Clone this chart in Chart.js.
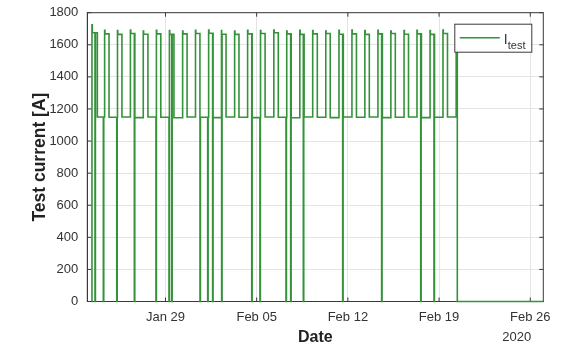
<!DOCTYPE html>
<html>
<head>
<meta charset="utf-8">
<script src="https://cdn.jsdelivr.net/npm/chart.js@4.4.1/dist/chart.umd.min.js"></script>
<style>
  html, body { margin: 0; padding: 0; background: #fff; }
  #wrap { width: 577px; height: 347px; }
</style>
</head>
<body>
<div id="wrap"><canvas id="current_chart" width="577" height="347"></canvas></div>
<script>
// time axis: days since 2020-01-23 00:00
const tickDays = [6, 13, 20, 27, 34];
const tickLabels = ["Jan 29", "Feb 05", "Feb 12", "Feb 19", "Feb 26"];
const yearLabel = "2020";

// one entry per day, Jan 23 .. Feb 20
const riseHour = [8.6, 7.9, 7.6, 7.4, 7.1, 7.3, 7.2, 7.6, 7.3, 7.5, 7.2, 7.4, 7.3, 7.1, 7.6,
                  7.4, 7.5, 7.2, 7.3, 7.6, 7.5, 7.3, 7.4, 7.2, 7.5, 7.3, 7.4, 7.2, 7.5];
const fallHour = [18.5, 16.0, 15.8, 15.6, 15.7, 15.4, 15.6, 15.8, 15.5, 15.7, 15.6, 15.4, 15.7, 15.5, 15.8,
                  15.6, 15.4, 15.7, 15.5, 15.6, 15.8, 15.5, 15.6, 15.4, 15.7, 15.5, 15.6, 15.5, 15.6];
const peakA = [1725, 1690, 1688, 1692, 1685, 1690, 1688, 1686, 1690, 1692, 1688, 1685, 1690, 1688, 1692,
               1686, 1690, 1688, 1685, 1690, 1692, 1688, 1690, 1686, 1688, 1690, 1688, 1692, 1600];
const highA = [1675, 1668, 1665, 1670, 1666, 1668, 1665, 1668, 1670, 1672, 1666, 1665, 1668, 1670, 1675,
               1668, 1665, 1668, 1670, 1666, 1668, 1665, 1668, 1670, 1666, 1668, 1665, 1670, 1585];
const lowA = [1150, 1148, 1150, 1146, 1150, 1148, 1145, 1150, 1148, 1146, 1150, 1148, 1146, 1150, 1148,
              1145, 1150, 1148, 1146, 1150, 1148, 1150, 1146, 1148, 1150, 1146, 1148, 1150, 1148];

const startDay = 0.35;   // logging starts
const endDay = 28.40;    // test stopped, current 0 afterwards
const lastDay = 35;
const zeroDropStart = [0.59, 1.23, 2.26, 3.61, 5.27, 6.27, 6.48, 8.65, 9.24, 9.62, 10.31, 12.62,
                       13.25, 15.25, 15.61, 16.58, 19.60, 22.59, 25.59, 26.61];
const zeroDropHours = 0.8;

const lineColor = "#34923a";
const axisColor = "#3a3a3a";
const gridColor = "#e4e4e4";
const textColor = "#333333";
const fontFamily = "'Liberation Sans', Arial, Helvetica, sans-serif";

function buildSeries() {
    let base = [{x: startDay, y: 0}];
    for (let k = 0; k < riseHour.length; k++) {
        const r = k + riseHour[k] / 24;
        const f = k + fallHour[k] / 24;
        base.push({x: r, y: peakA[k]});
        base.push({x: r + 0.6 / 24, y: highA[k]});
        base.push({x: f, y: lowA[k]});
    }
    base = base.filter(p => p.x < endDay);
    base.push({x: endDay, y: 0});

    const valueAt = (t) => {
        let v = 0;
        base.forEach(p => { if (p.x <= t) v = p.y; });
        return v;
    };

    let pts = base.slice();
    zeroDropStart.forEach(a => {
        const b = a + zeroDropHours / 24;
        const v = valueAt(b);
        pts = pts.filter(p => p.x < a || p.x > b);
        pts.push({x: a, y: 0});
        pts.push({x: b, y: v});
    });
    pts.sort((p, q) => p.x - q.x);
    pts.push({x: lastDay, y: 0});
    return pts;
}

const matlabFrame = {
    id: "matlabFrame",
    beforeDatasetsDraw(chart) {
        const {ctx, chartArea: a, scales} = chart;
        ctx.save();
        ctx.strokeStyle = axisColor;
        ctx.lineWidth = 1;
        ctx.strokeRect(a.left, a.top, a.right - a.left, a.bottom - a.top);
        ctx.beginPath();
        scales.x.ticks.forEach(t => {
            const px = scales.x.getPixelForValue(t.value);
            ctx.moveTo(px, a.bottom); ctx.lineTo(px, a.bottom - 4);
            ctx.moveTo(px, a.top); ctx.lineTo(px, a.top + 4);
        });
        scales.y.ticks.forEach(t => {
            const py = scales.y.getPixelForValue(t.value);
            ctx.moveTo(a.left, py); ctx.lineTo(a.left + 4, py);
            ctx.moveTo(a.right, py); ctx.lineTo(a.right - 4, py);
        });
        ctx.stroke();
        ctx.restore();
    },
    afterDraw(chart) {
        const {ctx, chartArea: a, scales} = chart;
        ctx.save();
        // year under the last date tick
        ctx.fillStyle = textColor;
        ctx.font = "13px " + fontFamily;
        ctx.textAlign = "right";
        ctx.textBaseline = "middle";
        ctx.fillText(yearLabel, scales.x.getPixelForValue(tickDays[tickDays.length - 1]) + 1, 337);

        // legend box
        const w = 77, h = 28;
        const x0 = a.right - 11.5 - w, y0 = a.top + 11.5;
        ctx.fillStyle = "#fff";
        ctx.fillRect(x0, y0, w, h);
        ctx.strokeStyle = axisColor;
        ctx.lineWidth = 1;
        ctx.strokeRect(x0, y0, w, h);
        ctx.strokeStyle = lineColor;
        ctx.lineWidth = 1.6;
        ctx.beginPath();
        ctx.moveTo(x0 + 5, y0 + 13.5);
        ctx.lineTo(x0 + 45, y0 + 13.5);
        ctx.stroke();
        const parts = chart.data.datasets[0].label.split("_");
        ctx.fillStyle = textColor;
        ctx.textAlign = "left";
        ctx.textBaseline = "alphabetic";
        ctx.font = "14px " + fontFamily;
        ctx.fillText(parts[0], x0 + 49, y0 + 19.5);
        ctx.font = "11px " + fontFamily;
        ctx.fillText(parts[1], x0 + 53, y0 + 24.5);
        ctx.restore();
    }
};

const ctx = document.getElementById("current_chart").getContext("2d");
const currentChart = new Chart(ctx, {
    type: "line",
    data: {
        datasets: [{
            label: "I_test",
            data: buildSeries(),
            borderColor: lineColor,
            borderWidth: 1.6,
            pointRadius: 0,
            stepped: true,
            fill: false,
            clip: 3
        }]
    },
    options: {
        responsive: false,
        animation: false,
        events: [],
        layout: {
            padding: {left: 0, top: 12.7, right: 33.7, bottom: 0}
        },
        plugins: {
            legend: {display: false},
            tooltip: {enabled: false}
        },
        scales: {
            x: {
                type: "linear",
                min: 0,
                max: lastDay,
                afterBuildTicks: (scale) => {
                    scale.ticks = tickDays.map(v => ({value: v}));
                },
                afterFit: (scale) => { scale.height = 45.5; },
                border: {color: axisColor, width: 1},
                // invisible tick marks only push the labels away from the axis
                grid: {color: gridColor, drawTicks: true, tickLength: 8.5, tickColor: "rgba(0,0,0,0)"},
                ticks: {
                    autoSkip: false,
                    maxRotation: 0,
                    padding: 0,
                    color: textColor,
                    font: {family: fontFamily, size: 13},
                    callback: (value, index) => tickLabels[index]
                },
                title: {
                    display: true,
                    text: "Date",
                    color: "#222",
                    font: {family: fontFamily, size: 16, weight: "bold"},
                    padding: {top: 0, bottom: 0}
                }
            },
            y: {
                min: 0,
                max: 1800,
                afterFit: (scale) => { scale.width = 87.3; },
                border: {color: axisColor, width: 1},
                grid: {color: gridColor, drawTicks: true, tickLength: 9, tickColor: "rgba(0,0,0,0)"},
                ticks: {
                    stepSize: 200,
                    padding: 0,
                    color: textColor,
                    font: {family: fontFamily, size: 13},
                    callback: (value) => String(value)
                },
                title: {
                    display: true,
                    text: "Test current [A]",
                    color: "#222",
                    font: {family: fontFamily, size: 17.5, weight: "bold"},
                    padding: {top: 30, bottom: 0}
                }
            }
        }
    },
    plugins: [matlabFrame]
});
</script>
</body>
</html>
